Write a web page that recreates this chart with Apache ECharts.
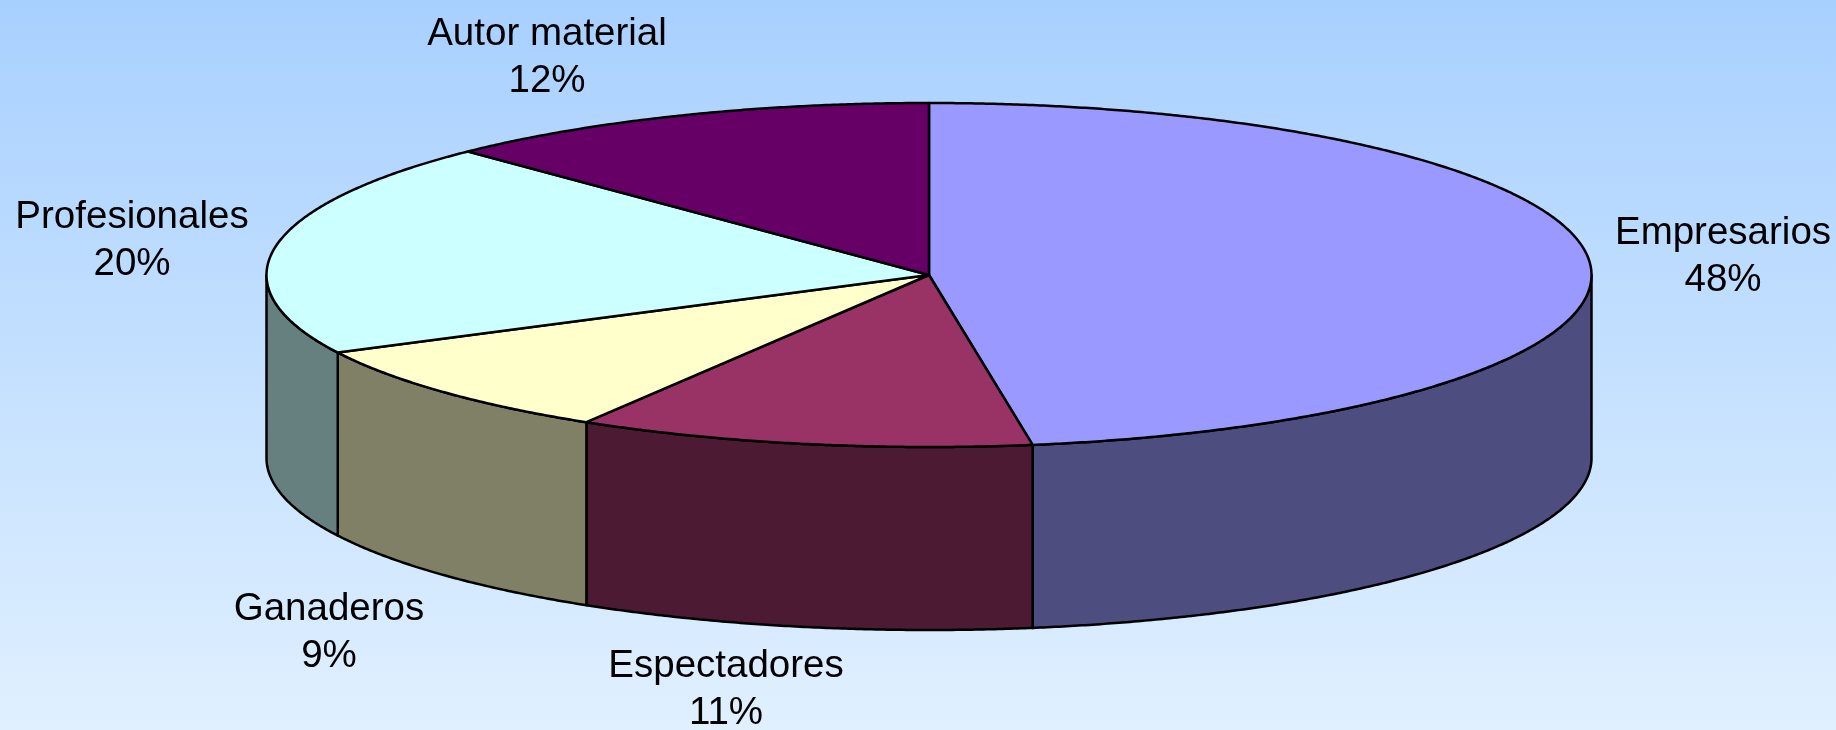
<!DOCTYPE html>
<html>
<head>
<meta charset="utf-8">
<title>Pie</title>
<script src="https://cdn.jsdelivr.net/npm/echarts@6/dist/echarts.min.js"></script>
<style>
  html, body { margin: 0; padding: 0; }
  #container { width: 1836px; height: 730px; }
</style>
</head>
<body>
<div id="container"></div>
<script>
// values, the labels show them rounded
const categories = ['Empresarios', 'Espectadores', 'Ganaderos', 'Profesionales', 'Autor material'];
const shares = [47.5, 11.15, 8.9, 20.2, 12.25];
const topColors = ['#9999FF', '#993366', '#FFFFCC', '#CCFFFF', '#660066'];
const sideColors = ['#4D4D80', '#4D1A33', '#808066', '#668080', '#330033'];
const labelCenters = [[1723, 257], [726, 690], [329, 633], [132, 241], [547, 58]];

// tilted disc
const cx = 929, cy = 275, rx = 662.5, ry = 172, depth = 183;

const total = shares.reduce(function (a, b) { return a + b; }, 0);
var running = 0;
const rows = shares.map(function (v) {
    var row = [running / total * 360, (running + v) / total * 360, v];
    running += v;
    return row;
});

// angle is clockwise from the top of the ellipse
function rim(deg, drop) {
    var t = deg * Math.PI / 180;
    return [cx + rx * Math.sin(t), cy - ry * Math.cos(t) + drop];
}

function arc(from, to, drop) {
    var pts = [];
    var n = Math.max(2, Math.ceil(Math.abs(to - from) * 3));
    for (var i = 0; i <= n; i++) {
        pts.push(rim(from + (to - from) * i / n, drop));
    }
    return pts;
}

function renderSlice(params, api) {
    var i = params.dataIndex;
    var a0 = api.value(0), a1 = api.value(1);
    var line = { stroke: '#000', lineWidth: 2.5, lineJoin: 'round' };
    var children = [];

    // only the front half of the wall can be seen
    var w0 = Math.max(a0, 90), w1 = Math.min(a1, 270);
    if (w1 > w0) {
        children.push({
            type: 'polygon',
            shape: { points: arc(w0, w1, 0).concat(arc(w1, w0, depth)) },
            style: Object.assign({ fill: sideColors[i] }, line)
        });
    }
    children.push({
        type: 'polygon',
        z2: 5,
        shape: { points: [[cx, cy]].concat(arc(a0, a1, 0)) },
        style: Object.assign({ fill: topColors[i] }, line)
    });
    children.push({
        type: 'text',
        z2: 10,
        style: {
            x: labelCenters[i][0],
            y: labelCenters[i][1],
            text: categories[i] + '\n' + Math.round(api.value(2) / total * 100) + '%',
            fill: '#000',
            font: '38.5px "Liberation Sans", Arial, sans-serif',
            lineHeight: 47,
            align: 'center',
            verticalAlign: 'middle'
        }
    });
    return { type: 'group', children: children };
}

var chart = echarts.init(document.getElementById('container'));
chart.setOption({
    animation: false,
    backgroundColor: {
        type: 'linear', x: 0, y: 0, x2: 0, y2: 1,
        colorStops: [
            { offset: 0, color: '#A8D0FF' },
            { offset: 1, color: '#E0F0FF' }
        ]
    },
    series: [{
        type: 'custom',
        coordinateSystem: 'none',
        clip: false,
        silent: true,
        data: rows,
        renderItem: renderSlice
    }]
});
</script>
</body>
</html>
